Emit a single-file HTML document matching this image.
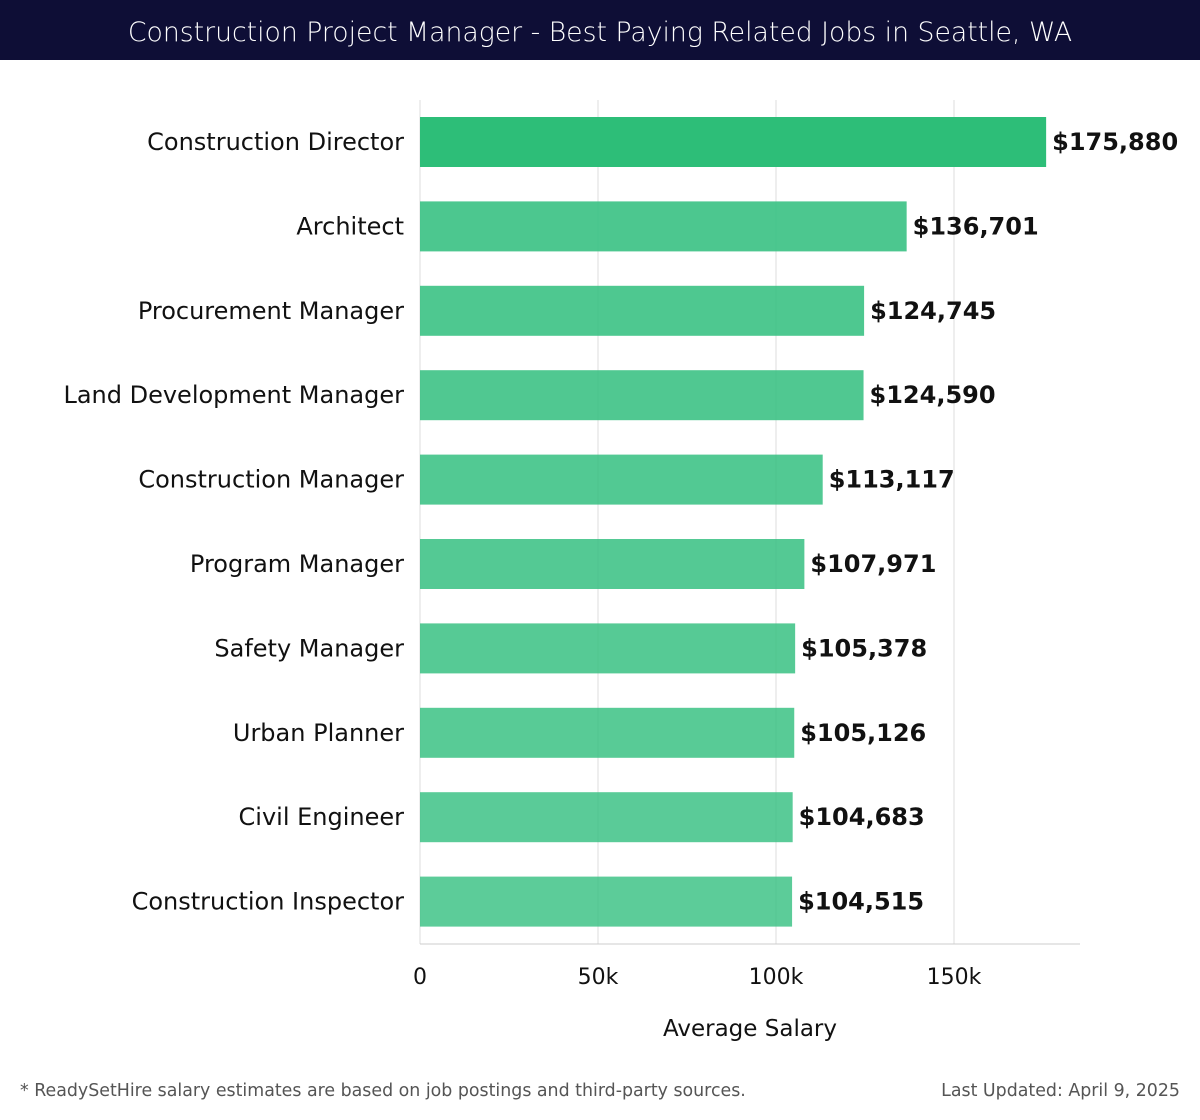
<!DOCTYPE html>
<html><head><meta charset="utf-8"><style>
body{margin:0;width:1200px;height:1120px;background:#fff;font-family:"Liberation Sans","DejaVu Sans",sans-serif;overflow:hidden}
#hdr{position:absolute;left:0;top:0;width:1200px;height:60px;background:#0e0e36;color:#fff;font-size:26.7px;text-align:center;line-height:66px;font-family:"DejaVu Sans","Liberation Sans",sans-serif;font-weight:300}
.foot{position:absolute;top:1081px;font-size:17.4px;color:#555;font-family:"DejaVu Sans","Liberation Sans",sans-serif}
</style></head><body>
<div id="hdr">Construction Project Manager - Best Paying Related Jobs in Seattle, WA</div>
<svg id="chart" width="1200" height="1120" style="position:absolute;left:0;top:0"></svg>
<div class="foot" style="left:20px">* ReadySetHire salary estimates are based on job postings and third-party sources.</div>
<div class="foot" style="right:20px">Last Updated: April 9, 2025</div>
<script>
const categories=["Construction Director","Architect","Procurement Manager","Land Development Manager","Construction Manager","Program Manager","Safety Manager","Urban Planner","Civil Engineer","Construction Inspector"];
const values=[175880,136701,124745,124590,113117,107971,105378,105126,104683,104515];
const ticks=[0,50000,100000,150000];
const tickLabels=["0","50k","100k","150k"];
const ns="http://www.w3.org/2000/svg",svg=document.getElementById("chart");
const x0=420,pxPer=356/100000,yTop=100,band=84.4,barH=50;
const xs=v=>x0+v*pxPer, ys=i=>yTop+17+i*band;
function mk(t,a,p){const e=document.createElementNS(ns,t);for(const k in a)e.setAttribute(k,a[k]);(p||svg).appendChild(e);return e;}
ticks.forEach((t,i)=>{
 const g=mk("line",{x1:xs(t),x2:xs(t),y1:100,y2:944,stroke:"#ddd","stroke-width":1});
 
 
 const l=mk("text",{x:xs(t),y:984,"text-anchor":"middle","font-size":22,fill:"#111","font-family":"DejaVu Sans, sans-serif"});
 l.textContent=tickLabels[i];
 
 
});
const ax=mk("line",{x1:420,x2:1080,y1:944,y2:944,stroke:"#ccc","stroke-width":1});


categories.forEach((c,i)=>{
 const y=ys(i);
 const r=mk("rect",{x:x0,y:y,width:xs(values[i])-x0,height:barH,fill:i==0?"#2dbe78":"#36c081","fill-opacity":i==0?1:(0.9-i*0.01)});
 
 
 const t=mk("text",{x:404,y:y+barH/2+8,"text-anchor":"end","font-size":24,fill:"#111","font-family":"DejaVu Sans, sans-serif"});
 t.textContent=c;
 
 
 const v=mk("text",{x:xs(values[i])+6,y:y+barH/2+8,"font-size":24,"font-weight":"bold",fill:"#111","font-family":"DejaVu Sans, sans-serif"});
 v.textContent="$"+values[i].toLocaleString("en-US");
 
 
});
const at=mk("text",{x:750,y:1036,"text-anchor":"middle","font-size":23,fill:"#111","font-family":"DejaVu Sans, sans-serif"});
at.textContent="Average Salary";


</script>
</body></html>
